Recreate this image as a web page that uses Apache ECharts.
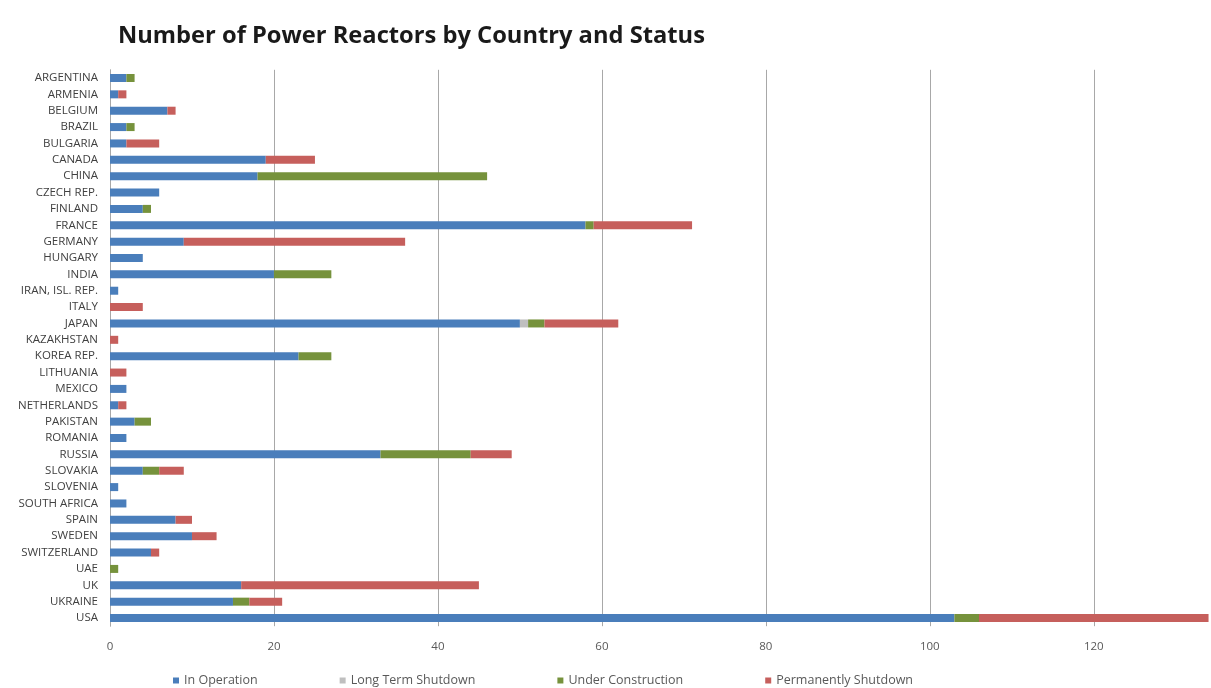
<!DOCTYPE html>
<html>
<head>
<meta charset="utf-8">
<script src="https://cdn.jsdelivr.net/npm/echarts@6/dist/echarts.min.js"></script>
<style>
html,body{margin:0;padding:0;background:#fff;}
#chart{width:1211px;height:688px;}
</style>
</head>
<body>
<div id="chart"></div>
<script>
const countries = ["ARGENTINA","ARMENIA","BELGIUM","BRAZIL","BULGARIA","CANADA","CHINA","CZECH REP.","FINLAND","FRANCE","GERMANY","HUNGARY","INDIA","IRAN, ISL. REP.","ITALY","JAPAN","KAZAKHSTAN","KOREA REP.","LITHUANIA","MEXICO","NETHERLANDS","PAKISTAN","ROMANIA","RUSSIA","SLOVAKIA","SLOVENIA","SOUTH AFRICA","SPAIN","SWEDEN","SWITZERLAND","UAE","UK","UKRAINE","USA"];
const inOperation =        [2,1,7,2,2,19,18,6,4,58,9,4,20,1,0,50,0,23,0,2,1,3,2,33,4,1,2,8,10,5,0,16,15,103];
const longTermShutdown =   [0,0,0,0,0,0,0,0,0,0,0,0,0,0,0,1,0,0,0,0,0,0,0,0,0,0,0,0,0,0,0,0,0,0];
const underConstruction =  [1,0,0,1,0,0,28,0,1,1,0,0,7,0,0,2,0,4,0,0,0,2,0,11,2,0,0,0,0,0,1,0,2,3];
const permanentlyShutdown =[0,1,1,0,4,6,0,0,0,12,27,0,0,0,4,9,1,0,2,0,1,0,0,5,3,0,0,2,3,1,0,29,4,28];
const xTicks = [0,20,40,60,80,100,120];

const chart = echarts.init(document.getElementById('chart'));
const mk = (name, data, color) => ({
  name, type: 'bar', stack: 'total', data, barWidth: 8,
  itemStyle: { color }, emphasis: { disabled: true }
});
chart.setOption({
  animation: false,
  title: {
    text: 'Number of Power Reactors by Country and Status',
    left: 113, top: 19,
    textStyle: { fontFamily: 'Open Sans', fontWeight: 'bold', fontSize: 23.7, color: '#1a1a1a' }
  },
  legend: {
    left: 168, top: 669, itemWidth: 6, itemHeight: 6, itemGap: 82,
    icon: 'rect',
    textStyle: { fontFamily: 'Open Sans', fontSize: 12.5, color: '#595959' },
    data: ['In Operation','Long Term Shutdown','Under Construction','Permanently Shutdown']
  },
  grid: { left: 110, right: 0, top: 69.8, bottom: 61.8, containLabel: false },
  xAxis: {
    type: 'value', min: xTicks[0], max: 134.3, interval: 20,
    axisLine: { show: false }, axisTick: { show: false },
    splitLine: { show: true, lineStyle: { color: '#a8a8a8', width: 1 } },
    axisLabel: { showMaxLabel: false, fontFamily: 'Open Sans', fontSize: 11.5, color: '#595959', margin: 15 }
  },
  yAxis: {
    type: 'category', data: countries, inverse: true,
    axisLine: { show: true, lineStyle: { color: '#a8a8a8' } },
    axisTick: { show: false },
    axisLabel: { fontFamily: 'Open Sans', fontSize: 11.5, color: '#404040', margin: 12 }
  },
  series: [
    mk('In Operation', inOperation, '#4a7ebb'),
    mk('Long Term Shutdown', longTermShutdown, '#bfbfbf'),
    mk('Under Construction', underConstruction, '#76923c'),
    mk('Permanently Shutdown', permanentlyShutdown, '#c65f5c')
  ]
});
</script>
</body>
</html>
